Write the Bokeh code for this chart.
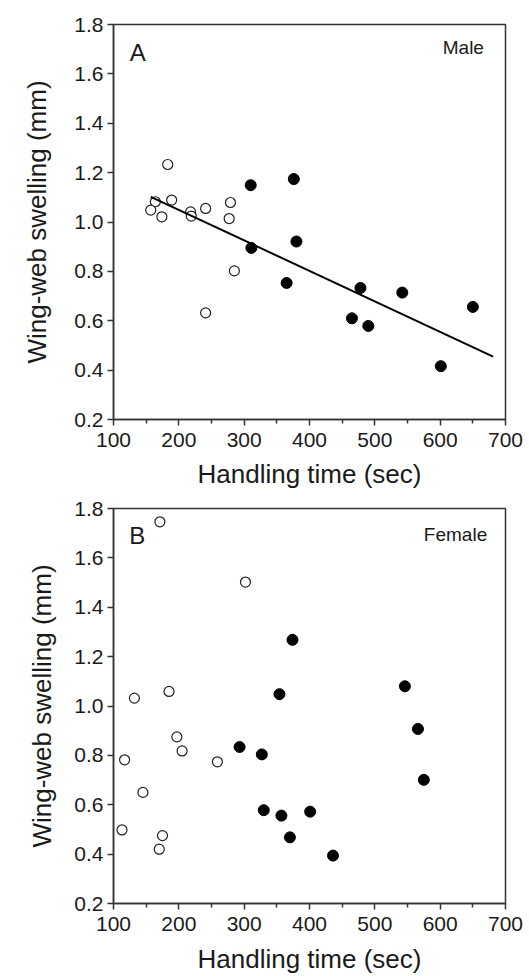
from bokeh.plotting import figure
from bokeh.layouts import column
from bokeh.models import FixedTicker, Range1d, Label, NumeralTickFormatter, Title
from bokeh.embed import file_html
from bokeh.resources import INLINE

# ---------------- data ----------------
# Panel A: males
male_open_x = [183, 189, 164, 157, 174, 218, 219, 241, 279, 277, 285, 241]
male_open_y = [1.233, 1.089, 1.082, 1.048, 1.021, 1.041, 1.024, 1.055, 1.079, 1.014, 0.802, 0.632]
male_fill_x = [310, 376, 311, 380, 365, 478, 542, 465, 490, 650, 601]
male_fill_y = [1.149, 1.174, 0.895, 0.921, 0.753, 0.733, 0.714, 0.610, 0.579, 0.656, 0.416]
male_fit_x = [157, 681]
male_fit_y = [1.102, 0.455]

# Panel B: females
female_open_x = [171, 302, 132, 185, 197, 205, 117, 259, 145, 113, 175, 170]
female_open_y = [1.746, 1.502, 1.032, 1.059, 0.875, 0.818, 0.782, 0.774, 0.650, 0.498, 0.475, 0.420]
female_fill_x = [374, 354, 546, 566, 575, 293, 327, 330, 357, 401, 370, 436]
female_fill_y = [1.268, 1.048, 1.080, 0.907, 0.701, 0.834, 0.804, 0.578, 0.556, 0.572, 0.468, 0.394]

x_ticks = [100, 200, 300, 400, 500, 600, 700]
x_minor = [150, 250, 350, 450, 550, 650]
y_ticks = [0.2, 0.4, 0.6, 0.8, 1.0, 1.2, 1.4, 1.6, 1.8]

x_label = "Handling time (sec)"
y_label = "Wing-web swelling (mm)"

FONT = "Liberation Sans"
INK = "#1a1a1a"
AXC = "#333333"


def make_panel(width, height, mb_left, mb_right, mb_top, mb_bottom,
               xlab_standoff, xtick_standoff, ylab_standoff, ylab_offset):
    p = figure(width=width, height=height, output_backend="svg", toolbar_location=None,
               x_range=Range1d(100, 700), y_range=Range1d(0.2, 1.8),
               min_border_left=mb_left, min_border_right=mb_right,
               min_border_top=mb_top, min_border_bottom=mb_bottom)
    p.grid.visible = False
    p.outline_line_color = AXC
    p.outline_line_width = 1.5
    p.background_fill_color = "white"
    p.border_fill_color = "white"

    xa = p.xaxis[0]
    xa.ticker = FixedTicker(ticks=x_ticks, minor_ticks=x_minor)
    ya = p.yaxis[0]
    ya.ticker = FixedTicker(ticks=y_ticks)
    ya.formatter = NumeralTickFormatter(format="0.0")
    for ax in (xa, ya):
        ax.axis_line_color = AXC
        ax.axis_line_width = 1.5
        ax.major_tick_line_color = AXC
        ax.major_tick_line_width = 1.5
        ax.major_tick_in = 0
        ax.major_tick_out = 6
        ax.minor_tick_in = 0
        ax.minor_tick_out = 4
        ax.minor_tick_line_color = AXC
        ax.minor_tick_line_width = 1.5
        ax.major_label_text_font = FONT
        ax.major_label_text_font_size = "21px"
        ax.major_label_text_color = INK
        ax.axis_label_text_font = FONT
        ax.axis_label_text_font_size = "26px"
        ax.axis_label_text_font_style = "normal"
        ax.axis_label_text_color = INK
    ya.major_label_standoff = 4
    xa.major_label_standoff = xtick_standoff
    ya.minor_tick_line_color = None
    xa.axis_label = x_label
    xa.axis_label_standoff = xlab_standoff
    # vertical axis title (sits a little above the frame centre in the original)
    p.add_layout(Title(text=y_label, align="center", offset=ylab_offset,
                       standoff=ylab_standoff, text_font=FONT, text_font_size="26px",
                       text_font_style="normal", text_color=INK), "left")
    return p


pA = make_panel(525, 498, 112, 20, 24, 79, 9, 7, 39, 25)
pA.scatter(male_open_x, male_open_y, marker="circle", size=10, fill_color="white",
           line_color="#222222", line_width=1.2)
pA.line(male_fit_x, male_fit_y, line_color="black", line_width=2)
pA.scatter(male_fill_x, male_fill_y, marker="circle", size=11, fill_color="black",
           line_color="black", line_width=1)
pA.add_layout(Label(x=125, y=1.740, text="A", text_font=FONT, text_font_size="24px",
                    text_color=INK, text_baseline="top", text_align="left"))
pA.add_layout(Label(x=667, y=1.748, text="Male", text_font=FONT, text_font_size="19px",
                    text_color=INK, text_baseline="top", text_align="right"))

pB = make_panel(525, 478, 108, 17, 10, 68, 10, 7, 30, 32)
pB.scatter(female_open_x, female_open_y, marker="circle", size=10, fill_color="white",
           line_color="#222222", line_width=1.2)
pB.scatter(female_fill_x, female_fill_y, marker="circle", size=11, fill_color="black",
           line_color="black", line_width=1)
pB.add_layout(Label(x=124, y=1.747, text="B", text_font=FONT, text_font_size="24px",
                    text_color=INK, text_baseline="top", text_align="left"))
pB.add_layout(Label(x=672, y=1.737, text="Female", text_font=FONT, text_font_size="19px",
                    text_color=INK, text_baseline="top", text_align="right"))

layout = column(pA, pB, spacing=0)
open("out.html", "w").write(file_html(layout, INLINE))
